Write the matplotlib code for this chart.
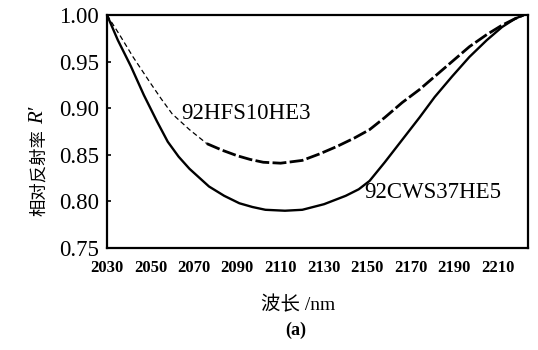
import matplotlib
matplotlib.use("Agg")
import matplotlib.pyplot as plt
import numpy as np

# Data
wl_cws = [2030, 2035, 2041, 2047, 2053, 2058, 2063, 2068, 2077, 2084, 2091, 2097, 2103,
          2112, 2120, 2130, 2140, 2146, 2151, 2158, 2166, 2174, 2181, 2189, 2197,
          2205, 2212, 2218, 2222]
r_cws = [1.000, 0.973, 0.945, 0.914, 0.886, 0.864, 0.848, 0.835, 0.816, 0.806, 0.798, 0.794, 0.791,
         0.790, 0.791, 0.797, 0.806, 0.813, 0.822, 0.842, 0.866, 0.890, 0.912, 0.934, 0.955,
         0.973, 0.987, 0.996, 1.000]

wl_hfs = [2030, 2036, 2042, 2050, 2055, 2060, 2068, 2076, 2083, 2090, 2096, 2102,
          2110, 2120, 2128, 2136, 2144, 2151, 2158, 2166, 2174, 2181, 2189, 2197,
          2205, 2212, 2218, 2222]
r_hfs = [1.000, 0.978, 0.955, 0.927, 0.910, 0.894, 0.877, 0.862, 0.855, 0.849, 0.845, 0.842,
         0.841, 0.844, 0.851, 0.859, 0.868, 0.877, 0.890, 0.906, 0.920, 0.934, 0.950, 0.966,
         0.979, 0.989, 0.996, 1.000]

xticks = [2030, 2050, 2070, 2090, 2110, 2130, 2150, 2170, 2190, 2210]
yticks = [0.75, 0.80, 0.85, 0.90, 0.95, 1.00]

serif = ["Liberation Serif", "DejaVu Serif"]
mixed = ["Liberation Serif", "Noto Sans CJK SC", "DejaVu Sans"]

fig = plt.figure(figsize=(5.38, 3.5), dpi=100)
ax = fig.add_axes([107/538, 1-248/350, (528-107)/538, (248-15)/350])

ax.plot(wl_cws, r_cws, color="black", lw=1.7, solid_capstyle="round", solid_joinstyle="round")
split = 7
ax.plot(wl_hfs[:split+1], r_hfs[:split+1], color="black", lw=0.9, dashes=(4, 2.5))
ax.plot(wl_hfs[split:], r_hfs[split:], color="black", lw=2.0, dashes=(5, 1.2))

ax.set_xlim(2030, 2224)
ax.set_ylim(0.75, 1.0)
ax.set_xticks(xticks)
ax.set_yticks(yticks)
ax.set_xticklabels([str(t) for t in xticks], fontfamily=serif, fontsize=12, fontweight="bold")
ax.set_yticklabels([f"{t:.2f}" for t in yticks], fontfamily=serif, fontsize=16.5)
ax.tick_params(axis="x", length=0, pad=9)
ax.tick_params(axis="y", direction="in", length=3, width=1.2, pad=6)
for s in ax.spines.values():
    s.set_linewidth(1.6)

ax.text(2094, 0.894, "92HFS10HE3", fontfamily=serif, fontsize=16.5, ha="center", va="center")
ax.text(2180, 0.810, "92CWS37HE5", fontfamily=serif, fontsize=16.5, ha="center", va="center")

fig.text(298/538, 1-305/350, "波长 /nm", fontfamily=mixed,
         fontsize=14, ha="center", va="center")
fig.text(296/538, 1-330/350, "(a)", fontfamily=serif, fontsize=13, fontweight="bold",
         ha="center", va="center")
fig.text(39/538, 1-173/350, "相对反射率", fontfamily=["Noto Sans CJK SC", "DejaVu Sans"],
         fontsize=12.5, rotation=90, ha="center", va="center")
fig.text(39/538, 1-115/350, "R′", fontfamily=serif, fontstyle="italic",
         fontsize=15, rotation=90, ha="center", va="center")

fig.savefig("out.png", dpi=100)
